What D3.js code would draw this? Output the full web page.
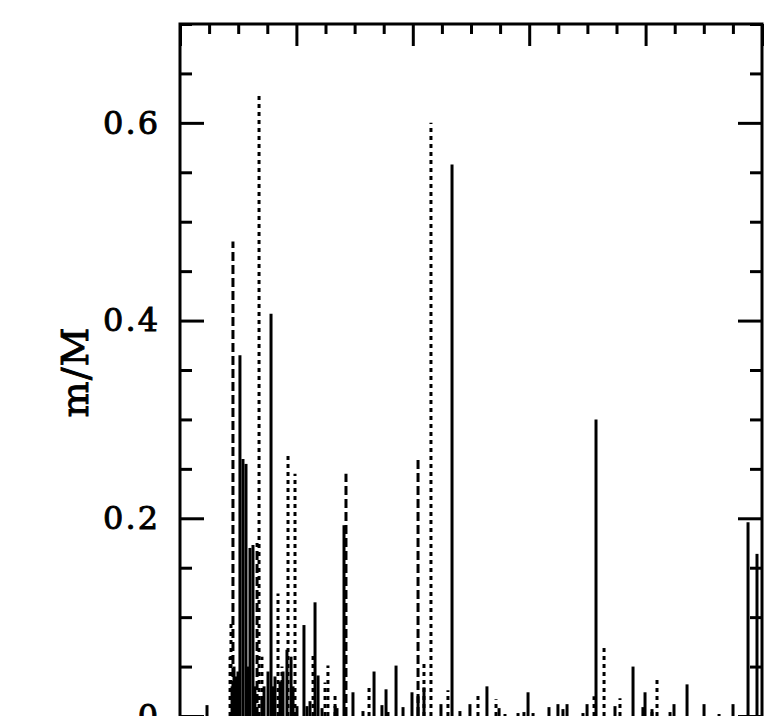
<!DOCTYPE html>
<html>
  <head>
    <meta charset="utf-8">
    <style>
    body {
      margin: 0;
      background: #fff;
    }
    .lbl {
      font-family: "DejaVu Serif", serif;
      font-size: 32px;
      letter-spacing: 2px;
      fill: #000;
      stroke: #000;
      stroke-width: 0.9px;
    }
    .ylab {
      font-size: 38px;
      letter-spacing: 1px;
    }
    </style>
    <script src="https://cdn.jsdelivr.net/npm/d3@7"></script>
  </head>
  <body>
    <script>
    // spike positions (x, arbitrary units 0..5) and heights m/M
    var solidX = [0.232, 0.447, 0.464, 0.481, 0.498, 0.515, 0.541, 0.567, 0.584, 0.601, 0.627, 0.644, 0.704, 0.722, 0.756, 0.782, 0.799, 0.816, 0.859, 0.876, 0.885, 0.919, 0.954, 0.971, 1.005, 1.065, 1.091, 1.117, 1.160, 1.186, 1.220, 1.332, 1.349, 1.409, 1.486, 1.572, 1.667, 1.735, 1.770, 1.856, 1.916, 1.993, 2.045, 2.096, 2.242, 2.337, 2.405, 2.491, 2.637, 2.741, 2.792, 2.904, 2.955, 2.990, 3.033, 3.170, 3.247, 3.290, 3.325, 3.462, 3.497, 3.574, 3.737, 3.892, 3.977, 3.995, 4.055, 4.210, 4.244, 4.356, 4.502, 4.631, 4.751, 4.880, 4.957];
    var solidM = [0.011, 0.030, 0.050, 0.040, 0.045, 0.365, 0.260, 0.255, 0.050, 0.170, 0.173, 0.030, 0.020, 0.030, 0.045, 0.407, 0.030, 0.040, 0.035, 0.033, 0.045, 0.067, 0.060, 0.030, 0.010, 0.092, 0.010, 0.015, 0.115, 0.041, 0.008, 0.010, 0.008, 0.193, 0.024, 0.005, 0.045, 0.011, 0.027, 0.051, 0.009, 0.024, 0.020, 0.029, 0.012, 0.558, 0.005, 0.012, 0.030, 0.008, 0.002, 0.003, 0.004, 0.024, 0.003, 0.009, 0.012, 0.007, 0.012, 0.003, 0.012, 0.300, 0.010, 0.050, 0.009, 0.024, 0.007, 0.004, 0.012, 0.032, 0.012, 0.002, 0.012, 0.196, 0.164];

    var dashX = [0.455, 0.662, 1.426, 2.045];
    var dashM = [0.480, 0.175, 0.245, 0.263];

    var dotX = [0.430, 0.438, 0.473, 0.679, 0.704, 0.842, 0.876, 0.928, 0.988, 1.143, 1.246, 1.271, 1.332, 1.624, 1.787, 2.096, 2.156, 2.302, 2.560, 2.715, 3.557, 3.643, 3.780, 4.055, 4.098];
    var dotM = [0.060, 0.094, 0.040, 0.629, 0.060, 0.124, 0.050, 0.265, 0.245, 0.063, 0.034, 0.051, 0.021, 0.030, 0.008, 0.055, 0.600, 0.026, 0.024, 0.017, 0.020, 0.070, 0.018, 0.007, 0.038];

    var yTickLabels = ["0", "0.2", "0.4", "0.6"];
    var yMajor = [0, 0.2, 0.4, 0.6];
    var xMajor = [0, 1, 2, 3, 4, 5];

    var width = 774, height = 716;
    var frameL = 180, frameR = 762, frameT = 24;

    var svg = d3.select("body").append("svg")
        .attr("width", width)
        .attr("height", height);

    var x = d3.scaleLinear().domain([0, 5]).range([frameL, frameR]);
    var y = d3.scaleLinear().domain([0, 0.7]).range([716, frameT]);
    var frameB = y(-0.03);

    var yMinor = d3.range(0, 0.7001, 0.05).filter(function(d){ return Math.abs(d * 5 - Math.round(d * 5)) > 1e-6; });
    var xMinor = d3.range(0, 5.001, 0.25).filter(function(d){ return Math.abs(d - Math.round(d)) > 1e-6; });

    function ticks(axis, vals, size, tx, ty) {
      var g = svg.append("g")
          .attr("transform", "translate(" + tx + "," + ty + ")")
          .call(axis.tickValues(vals).tickSize(size).tickFormat(""));
      g.select(".domain").remove();
      g.selectAll("line").attr("stroke", "#000").attr("stroke-width", 3);
    }

    ticks(d3.axisRight(y), yMajor, 24, frameL, 0);
    ticks(d3.axisRight(y), yMinor, 12, frameL, 0);
    ticks(d3.axisLeft(y), yMajor, 24, frameR, 0);
    ticks(d3.axisLeft(y), yMinor, 12, frameR, 0);
    ticks(d3.axisBottom(x), xMajor, 22, 0, frameT);
    ticks(d3.axisBottom(x), xMinor, 10, 0, frameT);
    ticks(d3.axisTop(x), xMajor, 22, 0, frameB);
    ticks(d3.axisTop(x), xMinor, 10, 0, frameB);

    // tick labels
    var lab = svg.append("g")
        .attr("transform", "translate(" + frameL + ",0)")
        .call(d3.axisLeft(y).tickValues(yMajor).tickSize(0).tickPadding(20)
          .tickFormat(function(d, i){ return yTickLabels[i]; }));
    lab.select(".domain").remove();
    lab.selectAll("text").attr("class", "lbl").attr("font-size", null).attr("font-family", null);

    svg.append("text")
        .attr("class", "lbl ylab")
        .attr("transform", "translate(88,372) rotate(-90)")
        .attr("text-anchor", "middle")
        .text("m/M");

    // spikes
    function spikes(xs, ms, dash) {
      svg.append("g").selectAll("line")
        .data(xs)
        .enter().append("line")
        .attr("x1", function(d){ return x(d); })
        .attr("x2", function(d){ return x(d); })
        .attr("y1", y(0))
        .attr("y2", function(d, i){ return y(ms[i]); })
        .attr("stroke", "#000")
        .attr("stroke-width", 3)
        .attr("stroke-dasharray", dash);
    }
    spikes(solidX, solidM, null);
    spikes(dashX, dashM, "9,4");
    spikes(dotX, dotM, "4,4");

    // frame
    svg.append("rect")
        .attr("x", frameL)
        .attr("y", frameT)
        .attr("width", frameR - frameL)
        .attr("height", frameB - frameT)
        .attr("fill", "none")
        .attr("stroke", "#000")
        .attr("stroke-width", 3);
    </script>
  </body>
</html>
